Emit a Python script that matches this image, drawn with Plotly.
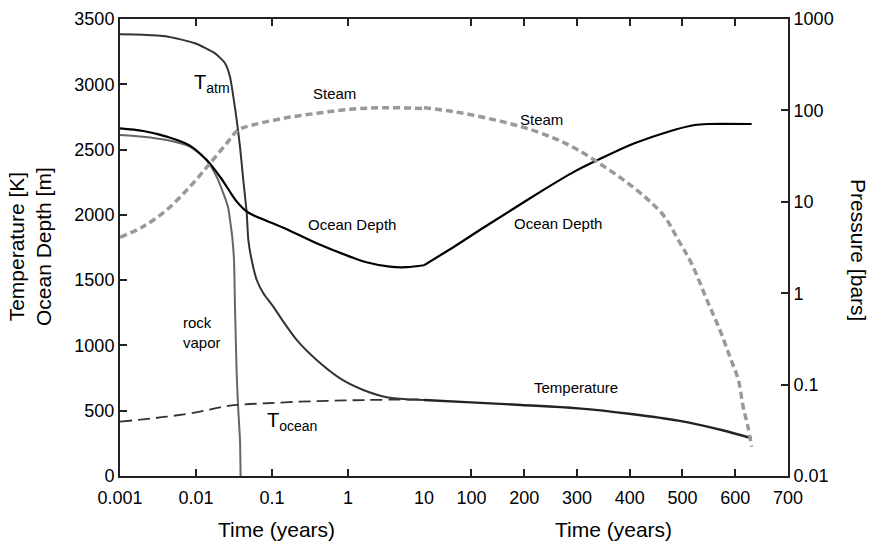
import plotly.graph_objects as go

# ---------------- data ----------------
# Left panel (log time, years)
t_atm_time = [0.001, 0.002, 0.004, 0.0097, 0.0178, 0.0241, 0.028, 0.031, 0.0343, 0.0379,
              0.0419, 0.0465, 0.0488, 0.054, 0.063, 0.0769, 0.104, 0.141, 0.211, 0.387,
              0.785, 1.59, 3.23, 5.92, 10]
t_atm_vals = [3383, 3380, 3368, 3314, 3237, 3161, 3058, 2905, 2727, 2522,
              2267, 2012, 1808, 1654, 1501, 1399, 1297, 1182, 1042, 888,
              748, 659, 603, 587, 582]

depth_left_time = [0.001, 0.00203, 0.0041, 0.0083, 0.0138, 0.0207, 0.028, 0.0344, 0.044,
                   0.056, 0.141, 0.386, 1.06, 1.75, 3.55, 5.9, 10]
depth_left_vals = [2663, 2642, 2599, 2530, 2420, 2292, 2177, 2101, 2037,
                   1999, 1902, 1782, 1680, 1637, 1603, 1599, 1614]

rock_time = [0.001, 0.002, 0.0041, 0.0083, 0.0138, 0.0187, 0.0229, 0.0264, 0.0285, 0.0300,
             0.0316, 0.0326, 0.0343, 0.0358, 0.0379, 0.0386]
rock_vals = [2612, 2599, 2573, 2522, 2420, 2292, 2165, 2060, 1930, 1830,
             1654, 1297, 787, 531, 276, 0]

t_ocean_time = [0.001, 0.0041, 0.0113, 0.0207, 0.0344, 0.085, 0.233, 0.64, 1.75, 10]
t_ocean_vals = [416, 454, 493, 526, 544, 557, 569, 577, 582, 587]

steam_left_time = [0.001, 0.002, 0.0041, 0.0083, 0.0153, 0.0253, 0.036, 0.056, 0.141,
                   0.386, 1.06, 2.9, 10]
steam_left_bars = [4.09, 5.34, 8.13, 14.6, 26.4, 43.6, 61.1, 69.2, 81.9,
                   92.9, 102.7, 107, 105]

# Right panel (linear time, years)
depth_right_time = [10, 67, 118, 175, 232, 295, 346, 409, 473, 523, 549, 631]
depth_right_vals = [1614, 1756, 1890, 2035, 2180, 2331, 2433, 2548, 2637, 2688, 2696, 2696]

steam_right_time = [10, 67, 131, 194, 257, 302, 352, 397, 435, 466, 492, 517,
                    549, 571, 590, 606, 615, 624, 631]
steam_right_bars = [107, 96.8, 81.9, 66.4, 49.5, 36.9, 24.2, 15.9, 10.5, 6.88, 3.82, 2.12,
                    0.774, 0.395, 0.2, 0.112, 0.057, 0.0346, 0.0209]

temp_right_time = [10, 99, 194, 302, 403, 492, 574, 631]
temp_right_vals = [582, 564, 544, 518, 475, 424, 352, 289]

left_x_ticks = [0.001, 0.01, 0.1, 1, 10]
left_x_labels = ["0.001", "0.01", "0.1", "1", "10"]
right_x_ticks = [100, 200, 300, 400, 500, 600, 700]
left_y_ticks = [0, 500, 1000, 1500, 2000, 2500, 3000, 3500]
p_ticks = [0.01, 0.1, 1, 10, 100, 1000]
p_labels = ["0.01", "0.1", "1", "10", "100", "1000"]

# ---------------- figure ----------------
FONT = "Liberation Sans, Arial, Helvetica, sans-serif"
W, H = 871, 550
L, R, T, B = 120, 83, 19, 74
PW, PH = W - L - R, H - T - B
split = (424 - L) / PW

def px(x):
    return (x - L) / PW

def py(y):
    return (H - B - y) / PH

fig = go.Figure()

steam_style = dict(color="#999999", width=3.5, dash="7px,4px")

fig.add_trace(go.Scatter(x=steam_left_time, y=steam_left_bars, xaxis="x", yaxis="y2",
                         mode="lines", line=steam_style, line_shape="spline"))
fig.add_trace(go.Scatter(x=steam_right_time, y=steam_right_bars, xaxis="x2", yaxis="y2",
                         mode="lines", line=steam_style, line_shape="spline"))
fig.add_trace(go.Scatter(x=rock_time, y=rock_vals, xaxis="x", yaxis="y",
                         mode="lines", line=dict(color="#666666", width=2, shape="spline",
                                                 smoothing=0.6)))
fig.add_trace(go.Scatter(x=t_ocean_time, y=t_ocean_vals, xaxis="x", yaxis="y",
                         mode="lines", line=dict(color="#333333", width=1.8, dash="12px,6px"),
                         line_shape="spline"))
fig.add_trace(go.Scatter(x=t_atm_time, y=t_atm_vals, xaxis="x", yaxis="y",
                         mode="lines", line=dict(color="#333333", width=2, shape="spline",
                                                 smoothing=0.6)))
fig.add_trace(go.Scatter(x=depth_left_time, y=depth_left_vals, xaxis="x", yaxis="y",
                         mode="lines", line=dict(color="#000000", width=2.2), line_shape="spline"))
fig.add_trace(go.Scatter(x=depth_right_time, y=depth_right_vals, xaxis="x2", yaxis="y",
                         mode="lines", line=dict(color="#000000", width=2.2, shape="spline",
                                                 smoothing=0.5)))
fig.add_trace(go.Scatter(x=temp_right_time, y=temp_right_vals, xaxis="x2", yaxis="y",
                         mode="lines", line=dict(color="#222222", width=2.4), line_shape="spline"))

axis_common = dict(showgrid=False, zeroline=False, showline=True, linecolor="#222222",
                   linewidth=2, ticks="inside", ticklen=7, tickwidth=1.5, tickcolor="#222222",
                   tickfont=dict(family=FONT, size=18, color="#000000"))

fig.update_layout(
    width=W, height=H,
    margin=dict(l=L, r=R, t=T, b=B, autoexpand=False),
    paper_bgcolor="white", plot_bgcolor="white",
    showlegend=False,
    font=dict(family=FONT, color="#000000"),
    xaxis=dict(type="log", range=[-3, 1], domain=[0, split], anchor="y",
               tickvals=left_x_ticks, ticktext=left_x_labels, mirror="ticks",
               ticklabelstandoff=4, **axis_common),
    xaxis2=dict(range=[10, 700], domain=[split, 1], anchor="y",
                tickvals=right_x_ticks, mirror="ticks", ticklabelstandoff=4, **axis_common),
    yaxis=dict(range=[0, 3500], anchor="x", tickvals=left_y_ticks, side="left", **axis_common),
    yaxis2=dict(type="log", range=[-2, 3], overlaying="y", anchor="x2", side="right",
                tickvals=p_ticks, ticktext=p_labels, **axis_common),
    yaxis3=dict(range=[0, 3500], overlaying="y", anchor="x2", side="left",
                tickvals=left_y_ticks, showticklabels=False, **axis_common),
    yaxis4=dict(type="log", range=[-2, 3], overlaying="y", anchor="x2", side="left",
                tickvals=p_ticks, showticklabels=False,
                **{k: v for k, v in axis_common.items() if k != "showline"}, showline=False),
)

ann = []
def label(text, x, y, size=15, xanchor="center", align="center", angle=0):
    ann.append(dict(text=text, x=px(x), y=py(y), xref="paper", yref="paper",
                    xanchor=xanchor, yanchor="middle", showarrow=False, align=align,
                    textangle=angle, font=dict(family=FONT, size=size, color="#000000")))

label("T<sub>atm</sub>", 192, 84, size=20, xanchor="left")
label("Steam", 334, 93)
label("Ocean Depth", 352, 225)
label("rock<br>vapor", 181, 332, xanchor="left", align="left")
label("T<sub>ocean</sub>", 265, 421, size=20, xanchor="left")
label("Steam", 541, 119)
label("Ocean Depth", 558, 223)
label("Temperature", 576, 387)
label("Time (years)", 276, 529, size=21)
label("Time (years)", 613, 529, size=21)
label("Temperature [K]<br>Ocean Depth [m]", 30, 247, size=21, angle=-90)
label("Pressure [bars]", 858, 250, size=21, angle=90)

fig.update_layout(annotations=ann)

fig.write_html("out.html")
